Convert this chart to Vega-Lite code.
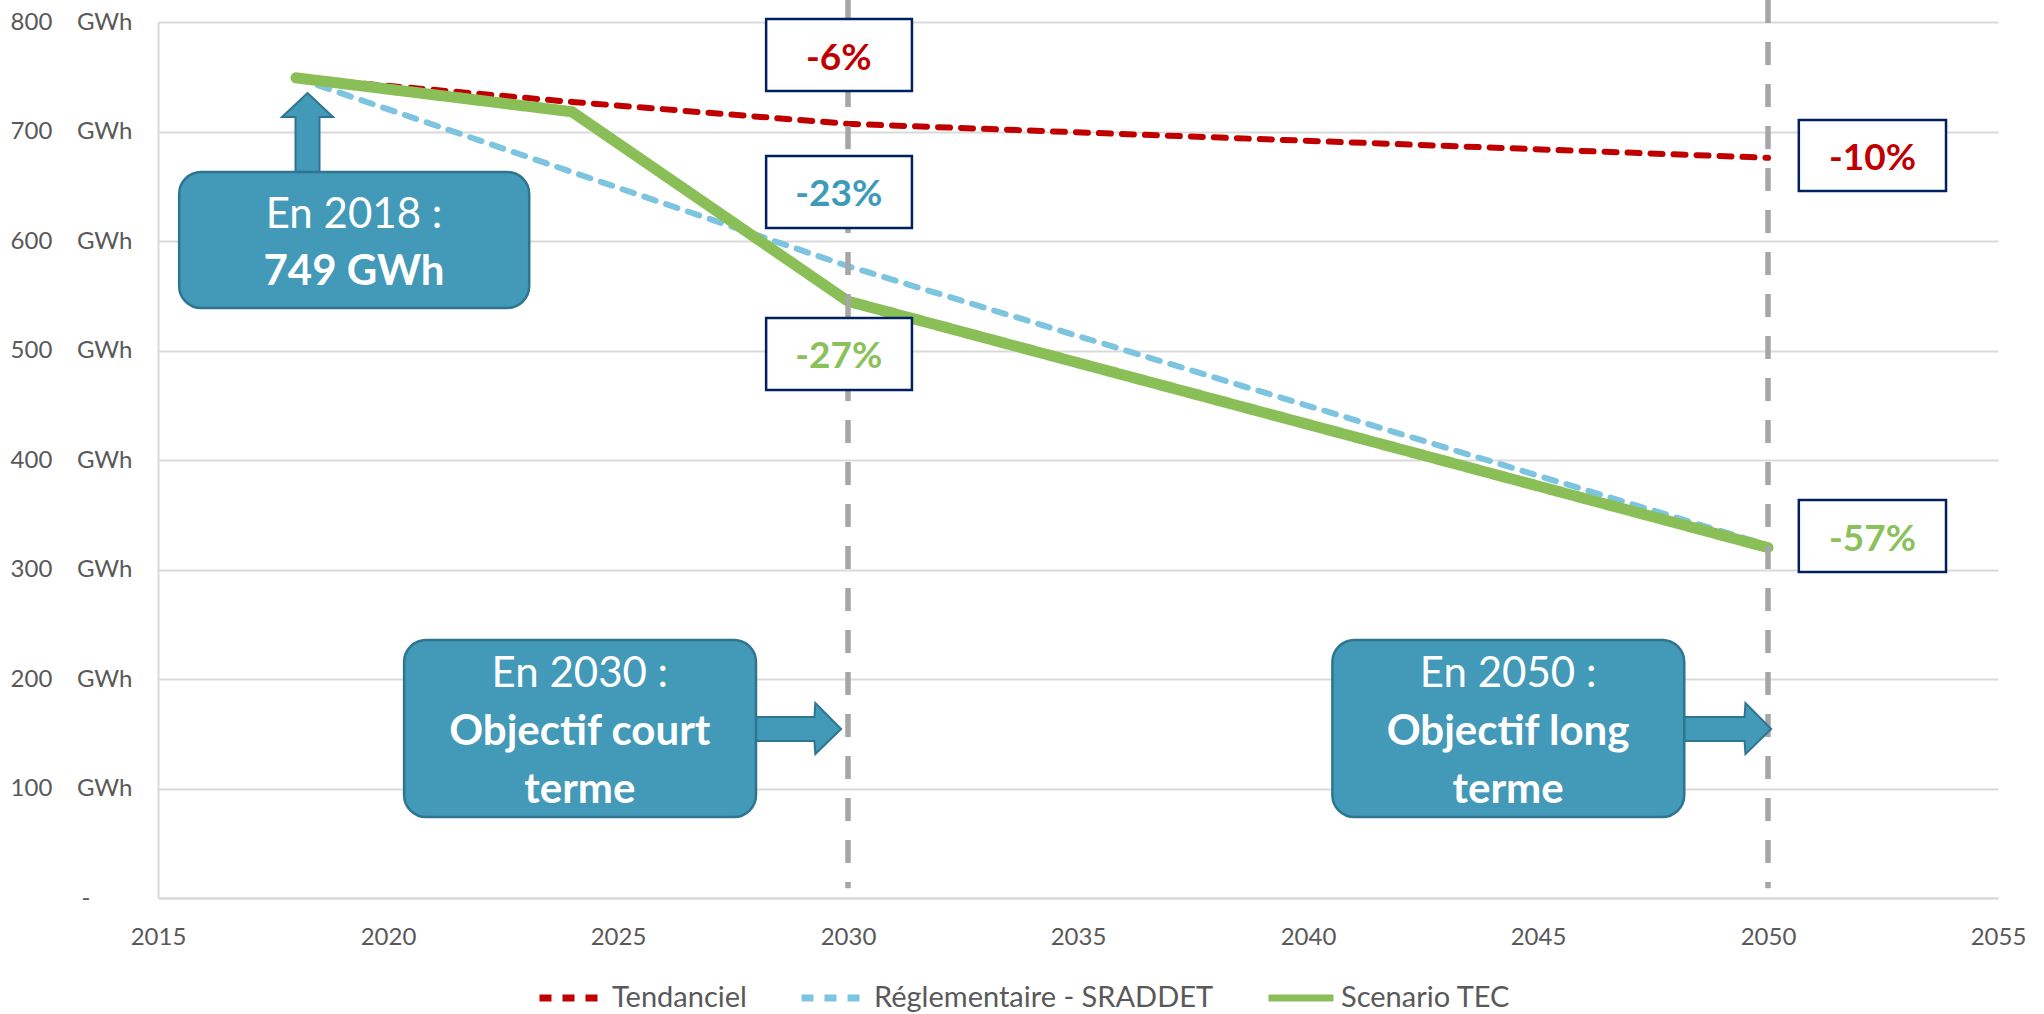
{
  "$schema": "https://vega.github.io/schema/vega-lite/v6.json",
  "width": 1840,
  "height": 876,
  "autosize": {"type": "none"},
  "padding": {"left": 158, "top": 22, "right": 46, "bottom": 116},
  "background": "white",
  "config": {
    "view": {"stroke": null},
    "font": "Lato",
    "axis": {"titleOpacity": 0}
  },
  "datasets": {
    "series": [
      {"series": "Tendanciel", "year": 2018, "value": 749},
      {"series": "Tendanciel", "year": 2024, "value": 727},
      {"series": "Tendanciel", "year": 2030, "value": 707},
      {"series": "Tendanciel", "year": 2050, "value": 676},
      {"series": "Réglementaire - SRADDET", "year": 2018, "value": 749},
      {"series": "Réglementaire - SRADDET", "year": 2030, "value": 577},
      {"series": "Réglementaire - SRADDET", "year": 2050, "value": 322},
      {"series": "Scenario TEC", "year": 2018, "value": 749},
      {"series": "Scenario TEC", "year": 2024, "value": 718},
      {"series": "Scenario TEC", "year": 2030, "value": 545},
      {"series": "Scenario TEC", "year": 2050, "value": 320}
    ],
    "refs": [
      {"year": 2030, "top": 820, "bottom": 9},
      {"year": 2050, "top": 820, "bottom": 9}
    ],
    "arrowRight": [
      {"arrow": "a2030", "x": 2027.83, "lo": 143.4, "hi": 165.3},
      {"arrow": "a2030", "x": 2029.27, "lo": 143.4, "hi": 165.3},
      {"arrow": "a2030", "x": 2029.29, "lo": 131.5, "hi": 178.1},
      {"arrow": "a2030", "x": 2029.85, "lo": 154.3, "hi": 154.3},
      {"arrow": "a2050", "x": 2048.0, "lo": 143.4, "hi": 165.3},
      {"arrow": "a2050", "x": 2049.49, "lo": 143.4, "hi": 165.3},
      {"arrow": "a2050", "x": 2049.51, "lo": 131.5, "hi": 178.1},
      {"arrow": "a2050", "x": 2050.07, "lo": 154.3, "hi": 154.3}
    ],
    "arrowUp": [
      {"year": 2018.25, "value": 698.6}
    ],
    "callouts": [
      {"id": "c2018", "x": 2015.46, "x2": 2023.07, "y": 663.0, "y2": 538.8},
      {"id": "c2030", "x": 2020.35, "x2": 2028.0, "y": 235.6, "y2": 74.0},
      {"id": "c2050", "x": 2040.53, "x2": 2048.18, "y": 235.6, "y2": 74.0}
    ],
    "calloutText": [
      {"x": 2019.26, "y": 612.1, "text": "En 2018 :", "kind": "heading"},
      {"x": 2019.26, "y": 559.6, "text": "749 GWh", "kind": "value"},
      {"x": 2024.17, "y": 193.0, "text": "En 2030 :", "kind": "heading"},
      {"x": 2024.17, "y": 139.7, "text": "Objectif court", "kind": "value"},
      {"x": 2024.17, "y": 86.5, "text": "terme", "kind": "value"},
      {"x": 2044.35, "y": 193.0, "text": "En 2050 :", "kind": "heading"},
      {"x": 2044.35, "y": 139.7, "text": "Objectif long", "kind": "value"},
      {"x": 2044.35, "y": 86.5, "text": "terme", "kind": "value"}
    ],
    "pctBoxes": [
      {"x": 2028.22, "x2": 2031.39, "y": 802.7, "y2": 737.0},
      {"x": 2028.22, "x2": 2031.39, "y": 677.6, "y2": 611.9},
      {"x": 2028.22, "x2": 2031.39, "y": 529.7, "y2": 463.9},
      {"x": 2050.67, "x2": 2053.87, "y": 710.5, "y2": 645.7},
      {"x": 2050.67, "x2": 2053.87, "y": 363.5, "y2": 297.7}
    ],
    "pctText": [
      {"series": "Tendanciel", "x": 2029.8, "y": 756.2, "text": "-6%"},
      {"series": "Réglementaire - SRADDET", "x": 2029.8, "y": 632.0, "text": "-23%"},
      {"series": "Scenario TEC", "x": 2029.8, "y": 483.7, "text": "-27%"},
      {"series": "Tendanciel", "x": 2052.27, "y": 664.4, "text": "-10%"},
      {"series": "Scenario TEC", "x": 2052.27, "y": 317.3, "text": "-57%"}
    ]
  },
  "layer": [
    {
      "data": {"name": "series"},
      "transform": [{"filter": "datum.series === 'Tendanciel'"}],
      "mark": {"type": "line", "strokeWidth": 6, "strokeCap": "round", "strokeJoin": "round"},
      "encoding": {
        "x": {
          "field": "year", "type": "quantitative", "title": null,
          "scale": {"domain": [2015, 2055], "nice": false, "zero": false},
          "axis": {
            "values": [2015, 2020, 2025, 2030, 2035, 2040, 2045, 2050, 2055],
            "format": "d", "grid": false, "ticks": false,
            "domain": true, "domainColor": "#D9D9D9", "domainWidth": 2,
            "labelFontSize": 24, "labelColor": "#595959", "labelFont": "Lato",
            "labelBaseline": "alphabetic", "labelPadding": 46,
            "labelFlush": false, "labelOverlap": false
          }
        },
        "y": {
          "field": "value", "type": "quantitative", "title": null,
          "scale": {"domain": [0, 800], "nice": false},
          "axis": {
            "values": [0, 100, 200, 300, 400, 500, 600, 700, 800],
            "grid": true, "gridColor": "#D9D9D9", "gridWidth": 2,
            "ticks": false, "domain": true, "domainColor": "#D9D9D9", "domainWidth": 2,
            "labelFontSize": 24, "labelColor": "#595959", "labelFont": "Lato",
            "labelPadding": 26, "labelOverlap": false,
            "labelExpr": "datum.value == 0 ? '-\u00a0\u2800\u2800' : datum.label + '\u00a0\u00a0\u00a0\u00a0GWh'"
          }
        },
        "color": {
          "field": "series", "type": "nominal",
          "scale": {
            "domain": ["Tendanciel", "Réglementaire - SRADDET", "Scenario TEC"],
            "range": ["#C00000", "#7CC4DF", "#8ABF58"]
          },
          "legend": {
            "orient": "none", "legendX": 378, "legendY": 940,
            "direction": "horizontal", "title": null,
            "symbolType": "stroke", "symbolSize": 4225, "symbolStrokeWidth": 7,
            "labelFontSize": 29, "labelColor": "#595959", "labelFont": "Lato",
            "labelOffset": 4, "labelLimit": 0, "columnPadding": 40, "padding": 0
          }
        },
        "strokeDash": {
          "field": "series", "type": "nominal",
          "scale": {
            "domain": ["Tendanciel", "Réglementaire - SRADDET", "Scenario TEC"],
            "range": [[12, 11], [12, 11], [1, 0]]
          }
        }
      }
    },
    {
      "data": {"name": "series"},
      "transform": [{"filter": "datum.series === 'Réglementaire - SRADDET'"}],
      "mark": {"type": "line", "strokeWidth": 6, "strokeCap": "round", "strokeJoin": "round"},
      "encoding": {
        "x": {"field": "year", "type": "quantitative", "title": null},
        "y": {"field": "value", "type": "quantitative", "title": null},
        "color": {"field": "series", "type": "nominal"},
        "strokeDash": {"field": "series", "type": "nominal"}
      }
    },
    {
      "data": {"name": "series"},
      "transform": [{"filter": "datum.series === 'Scenario TEC'"}],
      "mark": {"type": "line", "strokeWidth": 11, "strokeCap": "round", "strokeJoin": "round"},
      "encoding": {
        "x": {"field": "year", "type": "quantitative", "title": null},
        "y": {"field": "value", "type": "quantitative", "title": null},
        "color": {"field": "series", "type": "nominal"},
        "strokeDash": {"field": "series", "type": "nominal"}
      }
    },
    {
      "data": {"name": "refs"},
      "mark": {"type": "rule", "color": "#A6A6A6", "strokeWidth": 5.5, "strokeDash": [23, 19]},
      "encoding": {
        "x": {"field": "year", "type": "quantitative", "title": null},
        "y": {"field": "top", "type": "quantitative", "title": null},
        "y2": {"field": "bottom"}
      }
    },
    {
      "data": {"name": "arrowRight"},
      "mark": {"type": "area", "orient": "vertical", "fill": "#4299B8", "stroke": "#2E7590", "strokeWidth": 2, "strokeJoin": "miter"},
      "encoding": {
        "x": {"field": "x", "type": "quantitative", "title": null},
        "y": {"field": "lo", "type": "quantitative", "title": null},
        "y2": {"field": "hi"},
        "detail": {"field": "arrow", "type": "nominal"}
      }
    },
    {
      "data": {"name": "arrowUp"},
      "mark": {
        "type": "point", "filled": true, "fill": "#4299B8", "stroke": "#2E7590", "strokeWidth": 2, "opacity": 1,
        "size": 6400,
        "shape": "M0,-1 L0.6375,-0.4 L0.3,-0.4 L0.3,1 L-0.3,1 L-0.3,-0.4 L-0.6375,-0.4 Z"
      },
      "encoding": {
        "x": {"field": "year", "type": "quantitative", "title": null},
        "y": {"field": "value", "type": "quantitative", "title": null}
      }
    },
    {
      "data": {"name": "callouts"},
      "mark": {"type": "rect", "fill": "#4299B8", "stroke": "#2E7590", "strokeWidth": 2.5, "cornerRadius": 22},
      "encoding": {
        "x": {"field": "x", "type": "quantitative", "title": null},
        "x2": {"field": "x2"},
        "y": {"field": "y", "type": "quantitative", "title": null},
        "y2": {"field": "y2"}
      }
    },
    {
      "data": {"name": "calloutText"},
      "transform": [{"filter": "datum.kind === 'heading'"}],
      "mark": {"type": "text", "font": "Lato", "fontSize": 42, "fontWeight": "normal", "color": "white", "align": "center", "baseline": "alphabetic"},
      "encoding": {
        "x": {"field": "x", "type": "quantitative", "title": null},
        "y": {"field": "y", "type": "quantitative", "title": null},
        "text": {"field": "text"}
      }
    },
    {
      "data": {"name": "calloutText"},
      "transform": [{"filter": "datum.kind === 'value'"}],
      "mark": {"type": "text", "font": "Lato", "fontSize": 42, "fontWeight": "bold", "color": "white", "align": "center", "baseline": "alphabetic"},
      "encoding": {
        "x": {"field": "x", "type": "quantitative", "title": null},
        "y": {"field": "y", "type": "quantitative", "title": null},
        "text": {"field": "text"}
      }
    },
    {
      "data": {"name": "pctBoxes"},
      "mark": {"type": "rect", "fill": "white", "stroke": "#002060", "strokeWidth": 2.5},
      "encoding": {
        "x": {"field": "x", "type": "quantitative", "title": null},
        "x2": {"field": "x2"},
        "y": {"field": "y", "type": "quantitative", "title": null},
        "y2": {"field": "y2"}
      }
    },
    {
      "data": {"name": "pctText"},
      "transform": [{"filter": "datum.series === 'Tendanciel'"}],
      "mark": {"type": "text", "font": "Lato", "fontSize": 37, "fontWeight": "bold", "color": "#C00000", "align": "center", "baseline": "alphabetic"},
      "encoding": {
        "x": {"field": "x", "type": "quantitative", "title": null},
        "y": {"field": "y", "type": "quantitative", "title": null},
        "text": {"field": "text"}
      }
    },
    {
      "data": {"name": "pctText"},
      "transform": [{"filter": "datum.series === 'Réglementaire - SRADDET'"}],
      "mark": {"type": "text", "font": "Lato", "fontSize": 37, "fontWeight": "bold", "color": "#3E9AB9", "align": "center", "baseline": "alphabetic"},
      "encoding": {
        "x": {"field": "x", "type": "quantitative", "title": null},
        "y": {"field": "y", "type": "quantitative", "title": null},
        "text": {"field": "text"}
      }
    },
    {
      "data": {"name": "pctText"},
      "transform": [{"filter": "datum.series === 'Scenario TEC'"}],
      "mark": {"type": "text", "font": "Lato", "fontSize": 37, "fontWeight": "bold", "color": "#8BC15A", "align": "center", "baseline": "alphabetic"},
      "encoding": {
        "x": {"field": "x", "type": "quantitative", "title": null},
        "y": {"field": "y", "type": "quantitative", "title": null},
        "text": {"field": "text"}
      }
    }
  ]
}
